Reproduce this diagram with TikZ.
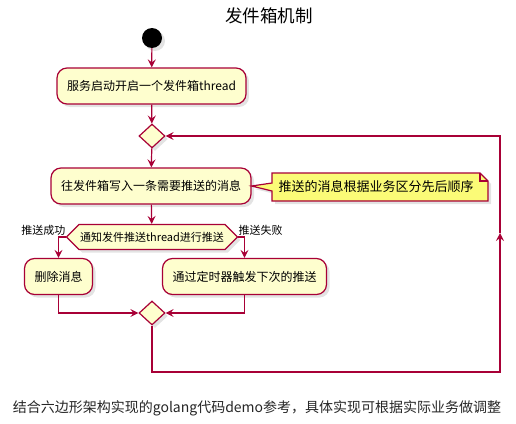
\documentclass[tikz,border=0pt]{standalone}
\usepackage{fontspec}
\setmainfont{Noto Sans CJK SC}
\usetikzlibrary{arrows.meta,shapes.geometric,shapes.symbols,shadows}
\definecolor{umlred}{HTML}{A80036}
\definecolor{umlfill}{HTML}{FEFECE}
\definecolor{notefill}{HTML}{FBFB77}
\begin{document}
\begin{tikzpicture}[
  x=1pt, y=-1pt,
  umlshadow/.style={drop shadow={shadow xshift=3pt, shadow yshift=-3pt, opacity=0.22}},
  action/.style={draw=umlred, fill=umlfill, line width=1.2pt, rounded corners=10pt, minimum height=36pt, inner xsep=10pt, font=\fontsize{12}{14}\selectfont, umlshadow},
  branch/.style={diamond, draw=umlred, fill=umlfill, line width=1.2pt, minimum width=26pt, minimum height=24pt, inner sep=0pt, umlshadow},
  hexcheck/.style={signal, signal to=west and east, draw=umlred, fill=umlfill, line width=1.2pt, minimum height=25pt, inner xsep=1pt, inner ysep=2pt, font=\fontsize{11}{13}\selectfont, umlshadow},
  flow/.style={-{Stealth[length=8pt,width=8pt,inset=3pt]}, draw=umlred, line width=1.2pt},
  tag/.style={font=\fontsize{11}{13}\selectfont}
]
\useasboundingbox (0,0) rectangle (516,423);
\node[font=\fontsize{17.5}{20}\selectfont] (title) at (269,16) {发件箱机制};
\node[circle, fill=black, minimum size=20pt, inner sep=0pt, umlshadow] (start) at (152,38) {};
\node[action] (launch) at (151.5,86) {服务启动开启一个发件箱thread};
\node[branch] (merge) at (152,136) {};
\node[action] (write) at (151,186) {往发件箱写入一条需要推送的消息};
% note on the write step
\draw[draw=umlred, fill=notefill, line width=1.2pt, umlshadow]
  (272,173) -- (480,173) -- (488,181) -- (488,201) -- (272,201) -- (272,191)
  -- (write.east) -- (272,183) -- cycle;
\draw[draw=umlred, line width=1.2pt] (480,173) -- (480,181) -- (488,181);
\node[font=\fontsize{13}{15}\selectfont] (note) at (376,187) {推送的消息根据业务区分先后顺序};
\node[hexcheck] (notify) at (152,237) {通知发件推送thread进行推送};
\node[tag, anchor=east] (oklabel) at (69,230) {推送成功};
\node[tag, anchor=west] (faillabel) at (235,230) {推送失败};
\node[action] (remove) at (58.5,276.5) {删除消息};
\node[action] (retry) at (244.5,276.5) {通过定时器触发下次的推送};
\node[branch] (join) at (152,313) {};
\coordinate (loopbr) at (500,372);
\coordinate (loopmid) at (500,233);
\node[font=\fontsize{14}{16}\selectfont, text=black!85] (caption) at (257,408) {结合六边形架构实现的golang代码demo参考，具体实现可根据实际业务做调整};
% connectors
\draw[flow] (start) -- (launch);
\draw[flow] (launch) -- (merge);
\draw[flow] (merge) -- (write);
\draw[flow] (write) -- (notify);
\draw[flow] (notify.west) -| (remove.north);
\draw[flow] (notify.east) -| (retry.north);
\draw[flow] (remove.south) |- (join.west);
\draw[flow] (retry.south) |- (join.east);
\draw[flow] (join.south) |- (loopbr) -- (loopmid);
\draw[flow] (loopmid) |- (merge.east);
\end{tikzpicture}
\end{document}
